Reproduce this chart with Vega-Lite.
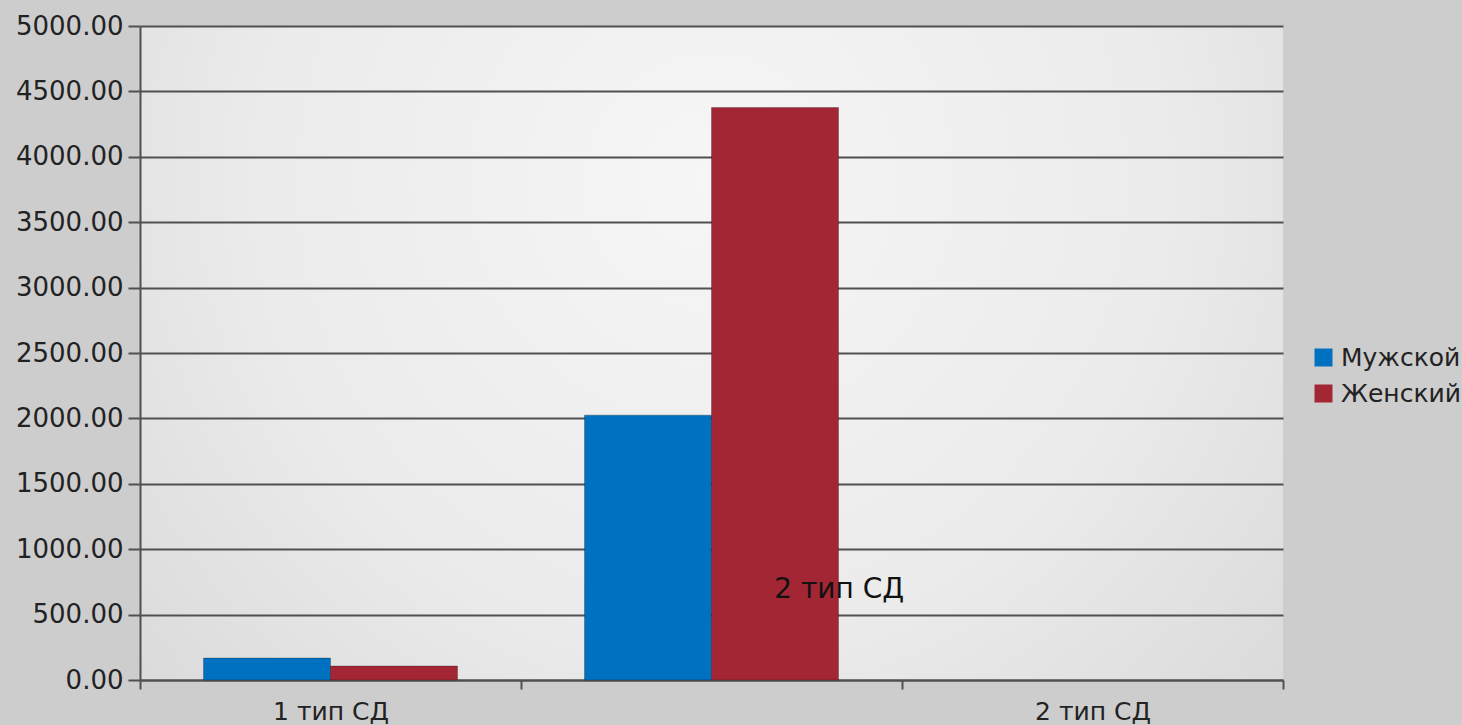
{
  "$schema": "https://vega.github.io/schema/vega-lite/v6.json",
  "width": 1143,
  "height": 654,
  "autosize": {"type": "none"},
  "padding": {"left": 140, "top": 26, "right": 179, "bottom": 45},
  "background": "#cdcdcd",
  "view": {
    "stroke": null,
    "fill": {"expr": "{gradient: 'radial', x1: 0.5, y1: 0.35, x2: 0.5, y2: 0.35, r1: 0, r2: 0.8, stops: [{offset: 0, color: '#f6f6f6'}, {offset: 0.5, color: '#ebebeb'}, {offset: 1, color: '#d2d2d2'}]}"}
  },
  "config": {"font": "DejaVu Sans"},
  "datasets": {
    "bars": [
      {"тип": "1 тип СД", "пол": "Мужской", "значение": 168},
      {"тип": "1 тип СД", "пол": "Женский", "значение": 107},
      {"тип": "2 тип СД", "пол": "Мужской", "значение": 2025},
      {"тип": "2 тип СД", "пол": "Женский", "значение": 4376}
    ]
  },
  "layer": [
    {
      "data": {"name": "bars"},
      "mark": {"type": "bar", "stroke": "#000000", "strokeOpacity": 0.25, "strokeWidth": 1},
      "encoding": {
        "x": {
          "field": "тип",
          "type": "nominal",
          "scale": {"domain": ["1 тип СД", "2 тип СД", "2 тип СД "], "paddingInner": 0, "paddingOuter": 0},
          "axis": {
            "title": null,
            "labelAngle": 0,
            "tickBand": "extent",
            "tickSize": 9,
            "tickColor": "#505050",
            "tickWidth": 2,
            "domainColor": "#505050",
            "domainWidth": 2,
            "labelFontSize": 25,
            "labelColor": "#222222",
            "labelPadding": 10,
            "labelExpr": "datum.value == '2 тип СД' ? '' : datum.value"
          }
        },
        "xOffset": {
          "field": "пол",
          "type": "nominal",
          "scale": {"domain": ["Мужской", "Женский"], "paddingInner": 0, "paddingOuter": 0.5}
        },
        "y": {
          "field": "значение",
          "type": "quantitative",
          "scale": {"domain": [0, 5000], "nice": false},
          "axis": {
            "title": null,
            "values": [0, 500, 1000, 1500, 2000, 2500, 3000, 3500, 4000, 4500, 5000],
            "format": ".2f",
            "labelFontSize": 26,
            "labelColor": "#222222",
            "labelPadding": 5,
            "tickSize": 12,
            "tickColor": "#505050",
            "tickWidth": 2,
            "domainColor": "#505050",
            "domainWidth": 2,
            "grid": true,
            "gridColor": "#505050",
            "gridWidth": 2,
            "gridOpacity": 1
          }
        },
        "color": {
          "field": "пол",
          "type": "nominal",
          "scale": {"domain": ["Мужской", "Женский"], "range": ["#0070c0", "#a22634"]},
          "legend": {
            "title": null,
            "orient": "none",
            "legendX": 1171,
            "legendY": 319,
            "symbolType": "square",
            "symbolSize": 324,
            "symbolStrokeWidth": 0,
            "symbolOpacity": 1,
            "labelFontSize": 25,
            "labelColor": "#222222",
            "labelOffset": 5,
            "rowPadding": 10
          }
        }
      }
    },
    {
      "data": {"values": [{}]},
      "mark": {"type": "text", "fontSize": 28, "color": "#111111", "align": "center", "baseline": "middle"},
      "encoding": {
        "x": {"datum": "2 тип СД", "bandPosition": 0.835},
        "y": {"datum": 690, "type": "quantitative"},
        "text": {"value": "2 тип СД"}
      }
    }
  ]
}
